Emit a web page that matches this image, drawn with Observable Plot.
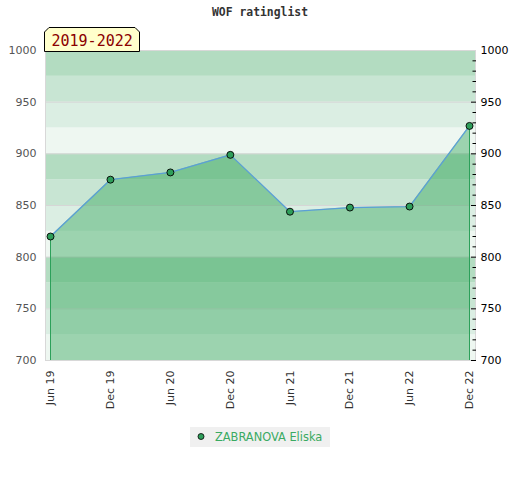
<!DOCTYPE html>
<html>
<head>
<meta charset="utf-8">
<script src="https://cdn.jsdelivr.net/npm/d3@7"></script>
<script src="https://cdn.jsdelivr.net/npm/@observablehq/plot@0.6"></script>
<style>
  html, body { margin: 0; padding: 0; background: #fff; }
  #wrap { position: relative; width: 520px; height: 480px; overflow: hidden; font-family: "DejaVu Sans", sans-serif; }
  #title { position: absolute; top: 5px; left: 0; width: 520px; text-align: center; font-family: "DejaVu Sans Mono", monospace; font-weight: bold; font-size: 11.4px; color: #333; }
  #chart { position: absolute; top: 0; left: 0; }
  #period { position: absolute; left: 44px; top: 27px; }
  #legend { position: absolute; left: 190px; top: 427px; width: 140px; height: 20px; background: #f0f0f0; }
</style>
</head>
<body>
<div id="wrap">
  <div id="chart"></div>
  <div id="title">WOF ratinglist</div>
  <svg id="period" width="98" height="25">
    <polygon points="0.5,24.5 0.5,5 5,0.5 91,0.5 95.5,5 95.5,24.5" fill="#ffffcc" stroke="#000" stroke-width="1"/>
    <text x="7.5" y="19" font-family="DejaVu Sans Mono, monospace" font-size="15" fill="#8b0000">2019-2022</text>
  </svg>
  <div id="legend">
    <svg width="140" height="20" style="position:absolute;left:0;top:0">
      <circle cx="11" cy="9.5" r="3" fill="#2e9e5a" stroke="#000" stroke-width="0.8"/>
      <text x="25" y="14" font-family="DejaVu Sans, sans-serif" font-size="11.4" fill="#3aaa62">ZABRANOVA Eliska</text>
    </svg>
  </div>
</div>
<script>
// ---- data ----
const dates = ["2019-06-01","2019-12-01","2020-06-01","2020-12-01","2021-06-01","2021-12-01","2022-06-01","2022-12-01"];
const ratings = [820, 875, 882, 899, 844, 848, 849, 927];
const player = "ZABRANOVA Eliska";
const yMajorTicks = [700, 750, 800, 850, 900, 950, 1000];
const yMinorTicks = [710,720,730,740,760,770,780,790,810,820,830,840,860,870,880,890,910,920,930,940,960,970,980,990];
const bandLows = [700, 725, 750, 775, 800, 825, 850, 875, 900, 925, 950, 975];
const bandShades = ["#eef7f1", "#dbeee3", "#c8e5d3", "#b3dcc1"];

const data = dates.map((d, i) => ({date: new Date(d + "T00:00:00Z"), rating: ratings[i], name: player}));
const bands = bandLows.map((lo, i) => ({lo, hi: lo + 25, fill: bandShades[i % 4]}));
const ends = [data[0], data[data.length - 1]];
const fmt = d3.format("d");

const chart = Plot.plot({
  width: 520,
  height: 420,
  marginTop: 50,
  marginLeft: 45,
  marginRight: 45,
  marginBottom: 60,
  style: {fontFamily: "DejaVu Sans, sans-serif", fontSize: "11px", color: "#333", background: "transparent"},
  x: {type: "utc", domain: [data[0].date, data[data.length - 1].date], insetLeft: 5, insetRight: 6},
  y: {domain: [700, 1000]},
  marks: [
    Plot.rect(bands, {y1: "lo", y2: "hi", fill: "fill"}),
    Plot.ruleY(yMajorTicks.slice(1, -1), {stroke: "#d6d6d6", strokeWidth: 1}),
    Plot.areaY(data, {x: "date", y1: 700, y2: "rating", fill: "rgb(42,162,83)", fillOpacity: 0.42}),
    Plot.ruleX(ends, {x: "date", y1: 700, y2: "rating", stroke: "#2ca05a", strokeWidth: 1}),
    Plot.line(data, {x: "date", y: "rating", stroke: "#5b9fd6", strokeWidth: 1.3}),
    Plot.dot(data, {x: "date", y: "rating", r: 3.5, fill: "#2e9e5a", stroke: "#000", strokeWidth: 0.9}),
    Plot.frame({stroke: "#d8d8d8"}),
    Plot.axisY({anchor: "left", ticks: yMajorTicks, tickFormat: fmt, tickSize: 0, tickPadding: 9, fill: "#555", label: null}),
    Plot.axisY({anchor: "right", ticks: yMajorTicks.slice(0, -1), tickFormat: fmt, tickSize: -5, tickPadding: 10, fill: "#000", stroke: "#000", label: null}),
    Plot.axisY({anchor: "right", ticks: yMajorTicks.slice(-1), tickFormat: fmt, tickSize: 0, tickPadding: 5, fill: "#000", label: null}),
    Plot.axisY({anchor: "right", ticks: yMinorTicks, tickSize: -3.5, tickFormat: () => "", stroke: "#000", label: null}),
    Plot.axisX({ticks: data.map(d => d.date), tickFormat: d3.utcFormat("%b %y"), tickRotate: -90, tickSize: 0, tickPadding: 10, fill: "#333", label: null})
  ]
});
document.getElementById("chart").appendChild(chart);
</script>
</body>
</html>
